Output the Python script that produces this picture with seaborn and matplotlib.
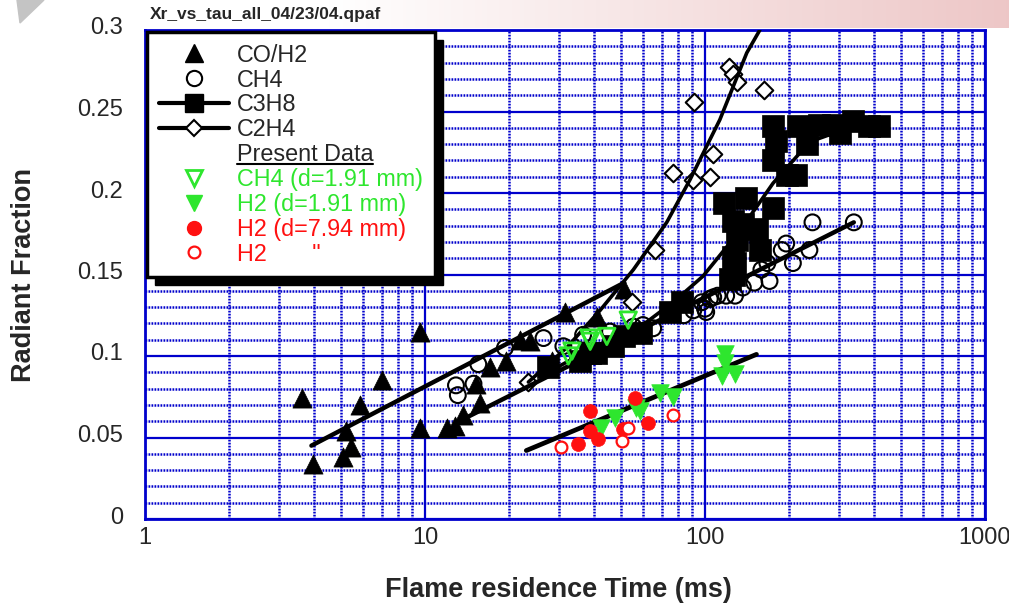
import numpy as np
import pandas as pd
import matplotlib
matplotlib.use("Agg")
import matplotlib.pyplot as plt
import seaborn as sns
from matplotlib.lines import Line2D
from matplotlib.patches import Rectangle, Polygon
from matplotlib.transforms import IdentityTransform, ScaledTranslation
from matplotlib.ticker import FixedLocator, FixedFormatter, LogLocator, MultipleLocator, NullFormatter

# ---- data (t in ms, radiant fraction) ----
co_t = [3.65, 3.99, 5.11, 5.21, 5.44, 5.86, 7.0, 9.6, 9.6, 11.95, 12.8, 13.7, 15.2, 15.7,
        17.1, 19.5, 21.9, 23.7, 28.4, 31.6, 41.1, 51.3]
co_v = [0.074, 0.034, 0.038, 0.054, 0.044, 0.070, 0.085, 0.115, 0.056, 0.056, 0.057, 0.064, 0.083, 0.071,
        0.093, 0.097, 0.110, 0.109, 0.097, 0.127, 0.124, 0.141]

ch4_t = [12.9, 13.1, 14.9, 15.5, 19.3, 26.5, 31.2, 36.7, 45.8, 55.5, 60.0, 65.3, 84.0, 90.8, 97.4,
         100.0, 101.0, 104.0, 107.0, 111.0, 119.0, 128.0, 136.5, 150.0, 159.0, 167.0, 170.0,
         188.0, 195.0, 206.0, 236.0, 242.0, 340.0]
ch4_v = [0.082, 0.076, 0.083, 0.095, 0.105, 0.111, 0.106, 0.113, 0.115, 0.118, 0.119, 0.117, 0.125, 0.128, 0.133,
         0.129, 0.127, 0.135, 0.136, 0.137, 0.137, 0.137, 0.142, 0.145, 0.153, 0.157, 0.146,
         0.165, 0.169, 0.157, 0.165, 0.182, 0.182]

c3h8_t = [27.6, 35.8, 38.8, 40.9, 47.0, 51.5, 59.0, 75.0, 82.6, 117.0, 123.0, 127.0, 125.6, 128.0,
          130.0, 125.6, 136.5, 140.0, 153.0, 157.0, 175.0, 175.0, 175.0, 179.0, 197.0, 211.0,
          215.0, 231.0, 256.0, 287.0, 303.0, 337.0, 386.0, 418.0]
c3h8_v = [0.093, 0.097, 0.102, 0.102, 0.106, 0.112, 0.114, 0.127, 0.133, 0.194, 0.147, 0.150, 0.161, 0.157,
          0.171, 0.183, 0.181, 0.197, 0.178, 0.165, 0.191, 0.220, 0.241, 0.232, 0.211, 0.211,
          0.241, 0.230, 0.242, 0.242, 0.237, 0.244, 0.241, 0.241]

c2h4_t = [23.4, 54.7, 66.3, 76.7, 90.3, 104.3, 106.5, 91.6, 122.0, 126.0, 130.0, 163.0]
c2h4_v = [0.084, 0.133, 0.165, 0.212, 0.208, 0.210, 0.224, 0.256, 0.2775, 0.273, 0.268, 0.263]

ch4_pd_t = [32.5, 33.5, 38.5, 38.9, 44.6, 53.2]
ch4_pd_v = [0.100, 0.103, 0.111, 0.109, 0.112, 0.122]

h2s_t = [42.5, 47.7, 56.9, 58.6, 69.0, 77.0, 114.6, 118.0, 118.0, 128.0]
h2s_v = [0.056, 0.062, 0.068, 0.066, 0.077, 0.075, 0.088, 0.096, 0.101, 0.089]

h2l_t = [35.2, 38.9, 38.9, 41.6, 51.1, 56.2, 62.8]
h2l_v = [0.046, 0.066, 0.054, 0.049, 0.055, 0.074, 0.059]

h2o_t = [30.6, 50.4, 52.9, 77.1]
h2o_v = [0.044, 0.048, 0.056, 0.064]

# fit curves
co_fit_t, co_fit_v = [3.93, 51.5], [0.045, 0.145]
ch4_fit_t, ch4_fit_v = [13.6, 340.0], [0.061, 0.182]
c3h8_fit_t = [27.5, 38.8, 49.7, 62.1, 78.2, 98.4, 133.4, 175.0, 218.0, 251.0, 303.0]
c3h8_fit_v = [0.090, 0.104, 0.1135, 0.121, 0.134, 0.149, 0.177, 0.206, 0.2245, 0.233, 0.238]
c2h4_fit_t = [23.4, 32.0, 42.2, 55.5, 73.0, 88.3, 113.0, 141.0, 157.0]
c2h4_fit_v = [0.084, 0.105, 0.128, 0.153, 0.182, 0.208, 0.245, 0.286, 0.300]
h2_fit_t, h2_fit_v = [23.0, 152.7], [0.042, 0.101]

x_ticks = [1, 10, 100, 1000]
x_labels = ["1", "10", "100", "1000"]
y_ticks = [0, 0.05, 0.1, 0.15, 0.2, 0.25, 0.3]
y_labels = ["0", "0.05", "0.1", "0.15", "0.2", "0.25", "0.3"]

legend_labels = ["CO/H2", "CH4", "C3H8", "C2H4", "Present Data",
                 "CH4 (d=1.91 mm)", "H2 (d=1.91 mm)", "H2 (d=7.94 mm)", 'H2       "']

BLUE = "#0000cc"
GREEN = "#2ee62e"
RED = "#ff1010"

sns.set_style("white")
plt.rcParams["font.family"] = ["Liberation Sans", "DejaVu Sans"]

fig = plt.figure(figsize=(10.09, 6.06), dpi=100)

# slide decoration: pink band at the top, grey corner
band = fig.add_axes([0, 1 - 28 / 606, 1, 28 / 606], zorder=-5)
grad = np.clip((np.linspace(0, 1009, 400) - 330) / (1009 - 330), 0, 1)
rgb = np.ones((1, 400, 3))
rgb[0, :, 0] = 1 - 0.07 * grad
rgb[0, :, 1] = 1 - 0.22 * grad
rgb[0, :, 2] = 1 - 0.22 * grad
band.imshow(rgb, aspect="auto", extent=(0, 1, 0, 1))
band.axis("off")
fig.add_artist(Polygon([(17 / 1009, 1), (44 / 1009, 1), (20 / 1009, 1 - 23 / 606)],
                       closed=True, color="#c4c4c4", transform=fig.transFigure))

ax = fig.add_axes([145 / 1009, 1 - 519 / 606, 840 / 1009, 489 / 606])
ax.set_xscale("log")


def pts(t, v):
    return pd.DataFrame({"t": t, "v": v})


# literature data (black)
sns.scatterplot(data=pts(co_t, co_v), x="t", y="v", marker="^", s=190, color="black",
                edgecolor="black", linewidth=0.5, ax=ax, zorder=3, legend=False)
sns.scatterplot(data=pts(ch4_t, ch4_v), x="t", y="v", marker="o", s=130, facecolor="none",
                edgecolor="black", linewidth=1.5, ax=ax, zorder=3, legend=False)
sns.scatterplot(data=pts(c3h8_t, c3h8_v), x="t", y="v", marker="s", s=235, color="black",
                edgecolor="black", linewidth=0.5, ax=ax, zorder=3, legend=False)
sns.scatterplot(data=pts(c2h4_t, c2h4_v), x="t", y="v", marker="D", s=80, facecolor="white",
                edgecolor="black", linewidth=1.5, ax=ax, zorder=3, legend=False)

# fit lines
for ft, fv, lw in [(co_fit_t, co_fit_v, 3.2), (ch4_fit_t, ch4_fit_v, 3.2),
                   (c3h8_fit_t, c3h8_fit_v, 2.6), (c2h4_fit_t, c2h4_fit_v, 2.6),
                   (h2_fit_t, h2_fit_v, 3.4)]:
    sns.lineplot(x=ft, y=fv, sort=False, estimator=None, color="black", linewidth=lw,
                 ax=ax, zorder=4, legend=False)

# present data
sns.scatterplot(data=pts(ch4_pd_t, ch4_pd_v), x="t", y="v", marker="v", s=140, facecolor="none",
                edgecolor=GREEN, linewidth=2, ax=ax, zorder=5, legend=False)
sns.scatterplot(data=pts(h2s_t, h2s_v), x="t", y="v", marker="v", s=160, color=GREEN,
                edgecolor=GREEN, linewidth=0.5, ax=ax, zorder=5, legend=False)
sns.scatterplot(data=pts(h2l_t, h2l_v), x="t", y="v", marker="o", s=100, color=RED,
                edgecolor=RED, linewidth=0.5, ax=ax, zorder=6, legend=False)
sns.scatterplot(data=pts(h2o_t, h2o_v), x="t", y="v", marker="o", s=72, facecolor="white",
                edgecolor=RED, linewidth=1.6, ax=ax, zorder=6, legend=False)

ax.set_xlim(1, 1000)
ax.set_ylim(0, 0.3)
ax.xaxis.set_major_locator(FixedLocator(x_ticks))
ax.xaxis.set_major_formatter(FixedFormatter(x_labels))
ax.xaxis.set_minor_locator(LogLocator(base=10, subs=np.arange(2, 10)))
ax.xaxis.set_minor_formatter(NullFormatter())
ax.yaxis.set_major_locator(FixedLocator(y_ticks))
ax.yaxis.set_major_formatter(FixedFormatter(y_labels))
ax.yaxis.set_minor_locator(MultipleLocator(0.01))
ax.tick_params(which="both", length=0)
ax.tick_params(axis="y", pad=16, labelsize=17)
ax.tick_params(axis="x", pad=6, labelsize=17)
ax.set_xlabel("")
ax.set_ylabel("")

ax.set_axisbelow(True)
ax.grid(which="major", color=BLUE, linewidth=1.6, linestyle="-")
ax.grid(which="minor", color=BLUE, linewidth=1.8, linestyle=(0, (0.7, 0.5)))
for sp in ax.spines.values():
    sp.set_color(BLUE)
    sp.set_linewidth(2)
    sp.set_visible(True)

fig.text(24 / 1009, 1 - 275 / 606, "Radiant Fraction", rotation=90, ha="center", va="center",
         fontsize=19.5, fontweight="bold")
fig.text(558 / 1009, 1 - 590 / 606, "Flame residence Time (ms)", ha="center", va="center",
         fontsize=19.5, fontweight="bold")
fig.text(150 / 1009, 1 - 15 / 606, "Xr_vs_tau_all_04/23/04.qpaf", ha="left", va="center",
         fontsize=12.5, fontweight="bold")

# legend
handles = [
    Line2D([], [], marker="^", color="black", linestyle="none", markersize=13),
    Line2D([], [], marker="o", markerfacecolor="none", markeredgecolor="black",
           markeredgewidth=1.5, linestyle="none", markersize=11),
    Line2D([], [], marker="s", color="black", linewidth=3, markersize=13),
    Line2D([], [], marker="D", markerfacecolor="white", markeredgecolor="black",
           markeredgewidth=1.5, color="black", linewidth=3, markersize=8.5),
    Line2D([], [], linestyle="none"),
    Line2D([], [], marker="v", markerfacecolor="none", markeredgecolor=GREEN,
           markeredgewidth=2, linestyle="none", markersize=11),
    Line2D([], [], marker="v", color=GREEN, linestyle="none", markersize=12),
    Line2D([], [], marker="o", color=RED, linestyle="none", markersize=10),
    Line2D([], [], marker="o", markerfacecolor="white", markeredgecolor=RED,
           markeredgewidth=1.6, linestyle="none", markersize=8.5),
]
leg = ax.legend(handles, legend_labels, loc="upper left",
                bbox_to_anchor=(147 / 1009, 1 - 32 / 606), bbox_transform=fig.transFigure,
                borderaxespad=0, frameon=True, fancybox=False, edgecolor="black", framealpha=1,
                fontsize=16.8, handlelength=3.0, handletextpad=0.35, labelspacing=0.08,
                borderpad=0.5)
leg.get_frame().set_linewidth(2.5)
leg.set_zorder(20)
texts = leg.get_texts()
for t in texts[5:7]:
    t.set_color(GREEN)
for t in texts[7:9]:
    t.set_color(RED)

fig.canvas.draw()
renderer = fig.canvas.get_renderer()
# y tick labels sit a few pixels above their grid lines in the reference
for tick in ax.yaxis.get_major_ticks():
    tick.label1.set_transform(tick.label1.get_transform()
                              + ScaledTranslation(0, 4 / 100, fig.dpi_scale_trans))
lb = leg.get_window_extent(renderer)
ax.add_artist(Rectangle((lb.x0 + 8, lb.y0 - 8), lb.width, lb.height, color="black",
                        transform=IdentityTransform(), zorder=19, clip_on=False))
tb = texts[4].get_window_extent(renderer)
fig.add_artist(Line2D([tb.x0, tb.x1], [tb.y0 + 2.5, tb.y0 + 2.5], color="black",
                      linewidth=1.5, transform=IdentityTransform()))

fig.savefig("out.png", dpi=100)
